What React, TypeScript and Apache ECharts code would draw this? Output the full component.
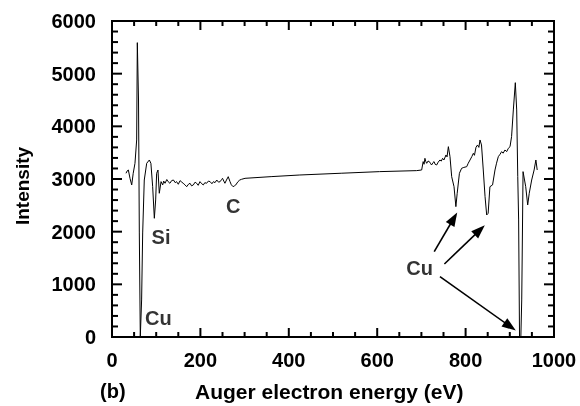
import React, { useEffect, useRef } from "react";
import * as echarts from "echarts";

const energy = [
  31.7, 34, 37, 40.7, 44.6, 48, 52, 55.8, 57.3, 60, 61.8, 64, 67, 69.4, 73, 78.5, 84.5, 88, 92, 95.8,
  98.8, 101, 104, 107, 111, 114.7, 117, 120, 124, 127, 131, 135, 139, 143, 146, 150, 154, 158, 161, 165,
  169, 173, 176.5, 180, 184, 188, 191.5, 195, 199, 203, 206.6, 210, 214, 218, 222, 226, 229.6, 233, 237, 241,
  244.6, 248, 250, 253, 255.5, 259, 263, 267, 270, 274, 277, 280, 285, 289, 293, 301, 360, 425, 520, 605,
  689, 700.6, 704, 706, 708, 710, 712, 715, 718, 721, 723, 726, 728.7, 731, 734.5, 738, 742, 745, 748, 751,
  755.6, 758, 761, 764.7, 768.5, 773.8, 778, 781, 786, 791, 796, 802.5, 806, 810, 814, 817.5, 820, 823.5, 827, 830,
  832.6, 836, 840, 844, 847.7, 851, 855, 861, 866.5, 870, 874, 878, 881.5, 885, 889, 893, 896.6, 900.5, 904, 908,
  912.5, 915.6, 918, 920, 922, 925, 927, 930, 936, 940.5, 944, 949.5, 955, 959, 962,
];

const intensity = [
  3108, 3150, 3171, 3013, 2887, 3108, 3298, 3741, 5589, 4500, 1975, 0, 703, 1975, 2981, 3298, 3361, 3298, 2854, 2254,
  2602, 3108, 3171, 2729, 2950, 2887, 2960, 2919, 2990, 2950, 2919, 2970, 2981, 2930, 2950, 2900, 2969, 2940, 2919, 2890,
  2854, 2900, 2919, 2870, 2887, 2940, 2919, 2880, 2950, 2910, 2887, 2930, 2919, 2960, 2950, 2910, 2950, 2930, 2981, 2940,
  2950, 2990, 3013, 2960, 2919, 2981, 3044, 2950, 2890, 2854, 2870, 2887, 2950, 2980, 2994, 3013, 3045, 3076, 3110, 3140,
  3159, 3171, 3330, 3280, 3393, 3330, 3298, 3340, 3330, 3290, 3266, 3310, 3330, 3280, 3266, 3320, 3361, 3340, 3393, 3361,
  3456, 3420, 3614, 3424, 3044, 2854, 2475, 2729, 3108, 3203, 3220, 3234, 3300, 3361, 3424, 3488, 3450, 3602, 3646, 3600,
  3741, 3646, 3171, 2664, 2317, 2349, 2854, 2887, 3171, 3300, 3424, 3470, 3519, 3490, 3551, 3520, 3582, 3614, 3804, 4311,
  4829, 4311, 3044, 2222, 0, 0, 703, 3140, 2854, 2507, 2729, 2981, 3171, 3361, 3171,
];

const xTicks = [0, 200, 400, 600, 800, 1000];
const yTicks = [0, 1000, 2000, 3000, 4000, 5000, 6000];
const xMinorStep = 50;
const yMinorStep = 200;

const annotationNames = ["Si", "C", "Cu", "Cu"];
const annotationEnergy = [111, 274.5, 104.8, 696];
const annotationIntensity = [1890, 2491, 355, 1310];

// arrows: tail and head points in data units (energy, intensity)
const arrowTails = [
  [729, 1620],
  [752, 1386],
  [742, 1145],
];
const arrowHeads = [
  [773, 2250],
  [832, 2030],
  [900.7, 200],
];

const BLACK = "#000";

export default function App() {
  const ref = useRef<HTMLDivElement>(null);

  useEffect(() => {
    if (!ref.current) return;
    const chart = echarts.init(ref.current, undefined, { renderer: "svg" });

    const xMin = xTicks[0];
    const xMax = xTicks[xTicks.length - 1];
    const yMin = yTicks[0];
    const yMax = yTicks[yTicks.length - 1];

    const labelStyle = {
      color: BLACK,
      fontFamily: "Arial",
      fontWeight: "bold",
      fontSize: 20,
    };

    const textGraphics = [
      {
        type: "text",
        x: 22,
        y: 186,
        rotation: Math.PI / 2,
        style: {
          text: "Intensity",
          fill: BLACK,
          fontFamily: "Arial",
          fontWeight: "bold",
          fontSize: 19,
          align: "center",
          verticalAlign: "middle",
        },
      },
      {
        type: "text",
        x: 100,
        y: 391,
        style: {
          text: "(b)",
          fill: BLACK,
          fontFamily: "Arial",
          fontWeight: "bold",
          fontSize: 20,
          align: "left",
          verticalAlign: "middle",
        },
      },
      {
        type: "text",
        x: 195,
        y: 391,
        style: {
          text: "Auger electron energy (eV)",
          fill: BLACK,
          fontFamily: "Arial",
          fontWeight: "bold",
          fontSize: 21,
          align: "left",
          verticalAlign: "middle",
        },
      },
    ];

    chart.setOption({
      animation: false,
      grid: { left: 112, right: 26, top: 21, bottom: 69 },
      xAxis: {
        type: "value",
        min: xMin,
        max: xMax,
        interval: 200,
        position: "bottom",
        axisLine: { show: true, onZero: false, lineStyle: { color: BLACK, width: 2 } },
        axisTick: { show: false },
        splitLine: { show: false },
        axisLabel: { ...labelStyle, margin: 13, formatter: (v: number) => String(v) },
      },
      yAxis: {
        type: "value",
        min: yMin,
        max: yMax,
        interval: 1000,
        position: "left",
        axisLine: { show: true, onZero: false, lineStyle: { color: BLACK, width: 2 } },
        axisTick: { show: false },
        splitLine: { show: false },
        axisLabel: { ...labelStyle, margin: 16, formatter: (v: number) => String(v) },
      },
      series: [
        {
          type: "line",
          data: energy.map((e, i) => [e, intensity[i]]),
          showSymbol: false,
          symbol: "none",
          lineStyle: { color: BLACK, width: 1 },
          markLine: {
            silent: true,
            symbol: ["none", "triangle"],
            symbolSize: [10, 14],
            label: { show: false },
            lineStyle: { color: BLACK, width: 1.6, type: "solid" },
            data: arrowTails.map((t, i) => [{ coord: t }, { coord: arrowHeads[i] }]),
          },
        },
        {
          type: "scatter",
          symbolSize: 1,
          itemStyle: { color: "rgba(0,0,0,0)" },
          label: {
            show: true,
            position: "inside",
            formatter: (p: any) => p.name,
            ...labelStyle,
          },
          data: annotationNames.map((n, i) => ({
            name: n,
            value: [annotationEnergy[i], annotationIntensity[i]],
          })),
        },
      ],
      graphic: textGraphics,
    });

    // Frame and inward ticks, placed through the chart's own scales.
    const px = (x: number, y: number) => chart.convertToPixel({ gridIndex: 0 }, [x, y]) as number[];
    const tickGraphics: any[] = [];
    const tl = px(xMin, yMax);
    const br = px(xMax, yMin);
    tickGraphics.push({
      type: "rect",
      z: 100,
      shape: { x: tl[0], y: tl[1], width: br[0] - tl[0], height: br[1] - tl[1] },
      style: { fill: "none", stroke: BLACK, lineWidth: 2 },
      silent: true,
    });
    for (let v = xMin; v <= xMax; v += xMinorStep) {
      const len = xTicks.indexOf(v) >= 0 ? 9 : 5;
      const b = px(v, yMin);
      const t = px(v, yMax);
      tickGraphics.push({
        type: "line",
        z: 100,
        silent: true,
        shape: { x1: b[0], y1: b[1], x2: b[0], y2: b[1] - len },
        style: { stroke: BLACK, lineWidth: 2 },
      });
      tickGraphics.push({
        type: "line",
        z: 100,
        silent: true,
        shape: { x1: t[0], y1: t[1], x2: t[0], y2: t[1] + len },
        style: { stroke: BLACK, lineWidth: 2 },
      });
    }
    for (let v = yMin; v <= yMax; v += yMinorStep) {
      const len = yTicks.indexOf(v) >= 0 ? 10 : 6;
      const l = px(xMin, v);
      const r = px(xMax, v);
      tickGraphics.push({
        type: "line",
        z: 100,
        silent: true,
        shape: { x1: l[0], y1: l[1], x2: l[0] + len, y2: l[1] },
        style: { stroke: BLACK, lineWidth: 2 },
      });
      tickGraphics.push({
        type: "line",
        z: 100,
        silent: true,
        shape: { x1: r[0], y1: r[1], x2: r[0] - len, y2: r[1] },
        style: { stroke: BLACK, lineWidth: 2 },
      });
    }

    chart.setOption({ graphic: [...textGraphics, ...tickGraphics] }, { replaceMerge: ["graphic"] });

    return () => chart.dispose();
  }, []);

  return <div ref={ref} style={{ position: "fixed", left: 0, top: 0, width: 580, height: 406 }} />;
}
